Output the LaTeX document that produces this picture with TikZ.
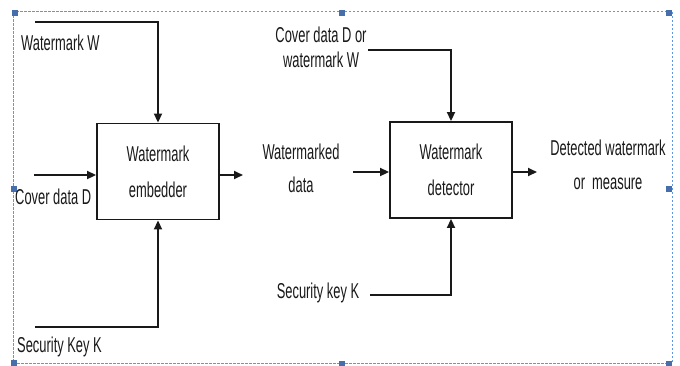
\documentclass[tikz,border=0pt]{standalone}
\usepackage{fontspec}
\setmainfont[FakeStretch=0.6]{Liberation Sans}
\usetikzlibrary{arrows.meta}
\definecolor{frameblue}{RGB}{95,150,230}
\definecolor{handleblue}{RGB}{70,110,170}
\definecolor{ink}{RGB}{25,25,25}
\begin{document}
\begin{tikzpicture}[x=1pt,y=-1pt,
  blk/.style={draw=ink, line width=1.9pt, minimum width=122pt, minimum height=96pt, inner sep=0pt, align=center, text=ink, font=\fontsize{21.5}{36}\selectfont},
  lbl/.style={inner sep=0pt, align=center, text=ink, font=\fontsize{21.5}{24}\selectfont},
  conn/.style={draw=ink, line width=1.9pt},
  arr/.style={conn, -{Triangle[length=9pt,width=8pt]}},
  handle/.style={fill=handleblue, draw=none, minimum size=5.5pt, inner sep=0pt}]
\useasboundingbox (0,0) rectangle (680,365);
\draw[frameblue, line width=0.9pt, dash pattern=on 2.5pt off 1.5pt] (13,11) rectangle (672,363);
\node[handle] (h1) at (15,13) {};
\node[handle] (h2) at (342,13) {};
\node[handle] (h3) at (669,13) {};
\node[handle] (h4) at (14,189) {};
\node[handle] (h5) at (669,189) {};
\node[handle] (h6) at (14,363) {};
\node[handle] (h7) at (342,364) {};
\node[handle] (h8) at (669,364) {};
% blocks
\node[blk] (emb) at (158,171.5) {Watermark\\embedder};
\node[blk] (det) at (451,170) {Watermark\\detector};
% labels
\node[lbl, anchor=west] (lw) at (21,43) {Watermark W};
\node[lbl, anchor=west] (lc) at (15,197) {Cover data D};
\node[lbl, anchor=west] (lk) at (17,347) {Security Key K};
\node[lbl, font=\fontsize{21.5}{33}\selectfont] (lwd) at (301,168) {Watermarked\\data};
\node[lbl, font=\fontsize{21.5}{25}\selectfont] (lcw) at (321,47) {Cover data D or\\watermark W};
\node[lbl] (lsk) at (318,293) {Security key K};
\node[lbl, font=\fontsize{21.5}{34}\selectfont] (ldm) at (608,165) {Detected watermark\\or\ \ measure};
% connectors
\coordinate (s1) at (35,22);
\coordinate (s2) at (34,175);
\coordinate (s3) at (35,327);
\coordinate (o1) at (243,175);
\coordinate (s4) at (368,50);
\coordinate (s5) at (353,172);
\coordinate (s6) at (370,295);
\coordinate (o2) at (537,172);
\draw[arr] (s1) -| (emb.north);
\draw[arr] (s2) -- (s2 -| emb.west);
\draw[arr] (s3) -| (emb.south);
\draw[arr] (o1 -| emb.east) -- (o1);
\draw[arr] (s4) -| (det.north);
\draw[arr] (s5) -- (s5 -| det.west);
\draw[arr] (s6) -| (det.south);
\draw[arr] (o2 -| det.east) -- (o2);
\end{tikzpicture}
\end{document}
